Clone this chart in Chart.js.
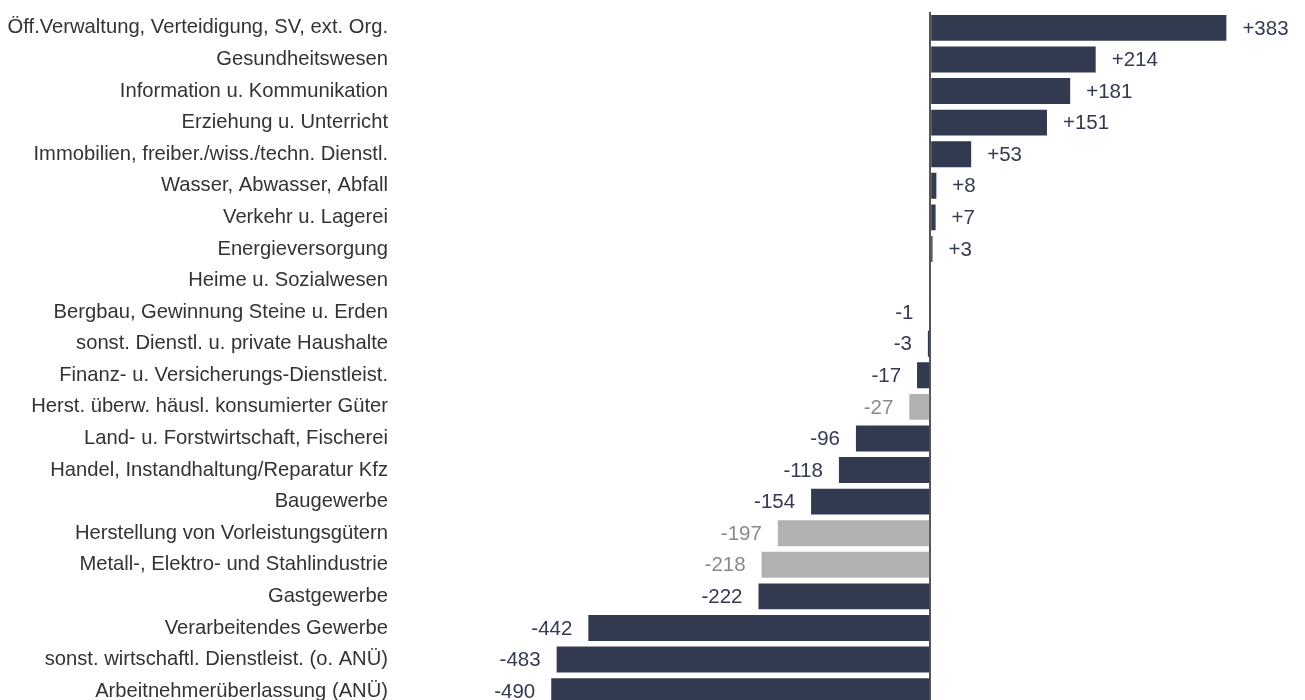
<!DOCTYPE html>
<html>
<head>
<meta charset="utf-8">
<script src="https://cdn.jsdelivr.net/npm/chart.js@4"></script>
<style>
  html, body { margin: 0; padding: 0; background: #fff; overflow: hidden; }
  #wrap { width: 1305px; height: 719px; position: relative; }
</style>
</head>
<body>
<div id="wrap"><canvas id="branchenChart"></canvas></div>
<script>
// Daten
const branchen = [
    'Öff.Verwaltung, Verteidigung, SV, ext. Org.',
    'Gesundheitswesen',
    'Information u. Kommunikation',
    'Erziehung u. Unterricht',
    'Immobilien, freiber./wiss./techn. Dienstl.',
    'Wasser, Abwasser, Abfall',
    'Verkehr u. Lagerei',
    'Energieversorgung',
    'Heime u. Sozialwesen',
    'Bergbau, Gewinnung Steine u. Erden',
    'sonst. Dienstl. u. private Haushalte',
    'Finanz- u. Versicherungs-Dienstleist.',
    'Herst. überw. häusl. konsumierter Güter',
    'Land- u. Forstwirtschaft, Fischerei',
    'Handel, Instandhaltung/Reparatur Kfz',
    'Baugewerbe',
    'Herstellung von Vorleistungsgütern',
    'Metall-, Elektro- und Stahlindustrie',
    'Gastgewerbe',
    'Verarbeitendes Gewerbe',
    'sonst. wirtschaftl. Dienstleist. (o. ANÜ)',
    'Arbeitnehmerüberlassung (ANÜ)'
];
const veraenderung = [383, 214, 181, 151, 53, 8, 7, 3, 0, -1, -3, -17, -27, -96, -118, -154, -197, -218, -222, -442, -483, -490];
// Industriebranchen grau hervorgehoben
const industrie = [
    'Herst. überw. häusl. konsumierter Güter',
    'Herstellung von Vorleistungsgütern',
    'Metall-, Elektro- und Stahlindustrie'
];

const dunkel = '#323a4f';
const grau = '#b2b2b2';
const schrift = '"Liberation Sans", Arial, sans-serif';

// Werte-Beschriftung an den Balkenenden
const valueLabels = {
    id: 'valueLabels',
    afterDatasetsDraw(chart) {
        const ctx = chart.ctx;
        const meta = chart.getDatasetMeta(0);
        ctx.save();
        ctx.font = '20.5px ' + schrift;
        ctx.textBaseline = 'middle';
        meta.data.forEach((bar, i) => {
            const v = veraenderung[i];
            if (v === 0) return;
            ctx.fillStyle = industrie.includes(branchen[i]) ? '#8a8a8a' : '#333b50';
            if (v > 0) {
                ctx.textAlign = 'left';
                ctx.fillText('+' + v, bar.x + 16, bar.y + 1);
            } else {
                ctx.textAlign = 'right';
                ctx.fillText(String(v), bar.x - 16, bar.y + 1);
            }
        });
        ctx.restore();
    }
};

document.addEventListener('DOMContentLoaded', function () {
    const ctx = document.getElementById('branchenChart').getContext('2d');
    new Chart(ctx, {
        type: 'bar',
        data: {
            labels: branchen,
            datasets: [{
                data: veraenderung,
                backgroundColor: branchen.map(b => industrie.includes(b) ? grau : dunkel),
                borderWidth: 0,
                barPercentage: 0.82,
                categoryPercentage: 1.0
            }]
        },
        options: {
            indexAxis: 'y',
            responsive: true,
            maintainAspectRatio: false,
            animation: false,
            layout: { padding: { top: 11, bottom: 4, left: 0, right: 50 } },
            plugins: {
                legend: { display: false },
                tooltip: { enabled: false }
            },
            scales: {
                x: {
                    min: -500,
                    max: 420,
                    display: true,
                    ticks: { display: false },
                    border: { display: false },
                    grid: {
                        drawTicks: false,
                        color: c => c.tick && c.tick.value === 0 ? '#555555' : 'rgba(0,0,0,0)',
                        lineWidth: 2
                    }
                },
                y: {
                    weight: 1,
                    border: { display: false },
                    grid: { display: false, drawTicks: false },
                    afterFit: scale => { scale.width = 388; },
                    ticks: {
                        padding: 0,
                        color: '#333333',
                        autoSkip: false,
                        font: { family: schrift, size: 20.2 }
                    }
                },
                // leerer Abstand zwischen Beschriftung und Balken
                luecke: {
                    type: 'linear',
                    position: 'left',
                    weight: 0,
                    display: true,
                    ticks: { display: false },
                    grid: { display: false, drawTicks: false },
                    border: { display: false },
                    afterFit: scale => { scale.width = 155.5; }
                }
            }
        },
        plugins: [valueLabels]
    });
});
</script>
</body>
</html>
